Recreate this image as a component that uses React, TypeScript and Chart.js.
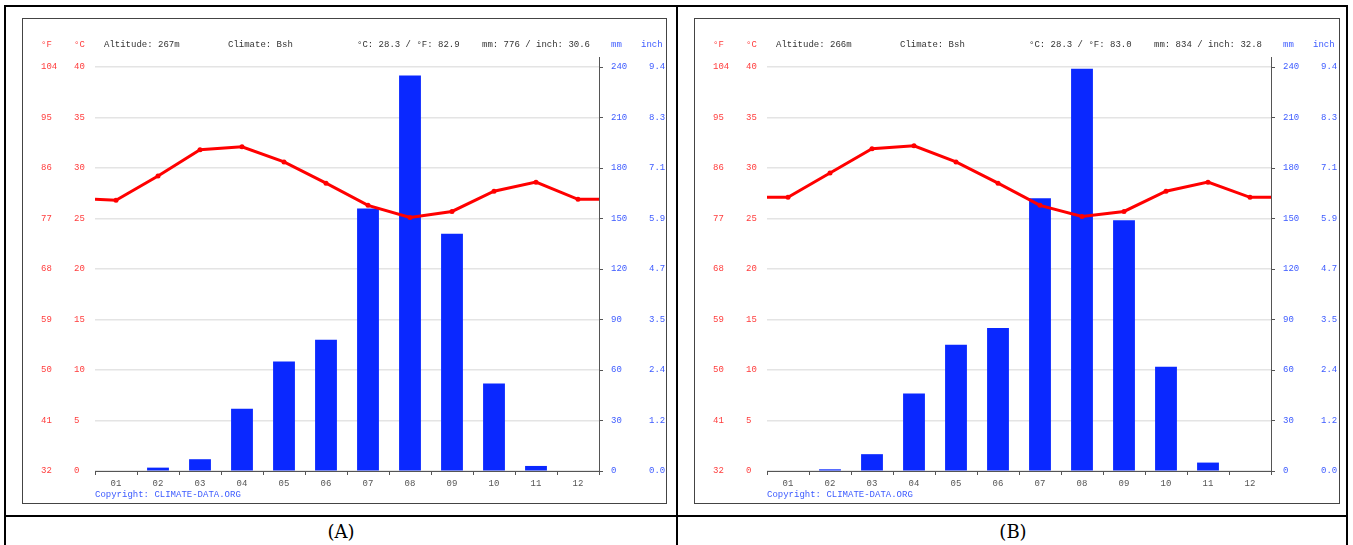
import React, { useEffect, useRef } from 'react';
import { Chart, registerables } from 'chart.js';

Chart.register(...registerables);

// ---------- data ----------
const months = ['01', '02', '03', '04', '05', '06', '07', '08', '09', '10', '11', '12'];

const precipA = [0, 2, 7, 37, 65, 78, 156, 235, 141, 52, 3, 0];
const tempA = [26.8, 29.2, 31.8, 32.1, 30.6, 28.5, 26.3, 25.1, 25.7, 27.7, 28.6, 26.9];
const tempAEdges = [26.9, 26.9];
const infoA = ['Altitude: 267m', 'Climate: Bsh', '°C: 28.3 / °F: 82.9', 'mm: 776 / inch: 30.6'];

const precipB = [0, 1, 10, 46, 75, 85, 162, 239, 149, 62, 5, 0];
const tempB = [27.1, 29.5, 31.9, 32.2, 30.6, 28.5, 26.3, 25.2, 25.7, 27.7, 28.6, 27.1];
const tempBEdges = [27.1, 27.1];
const infoB = ['Altitude: 266m', 'Climate: Bsh', '°C: 28.3 / °F: 83.0', 'mm: 834 / inch: 32.8'];

const fahrenheitTicks = ['32', '41', '50', '59', '68', '77', '86', '95', '104'];
const inchTicks = ['0.0', '1.2', '2.4', '3.5', '4.7', '5.9', '7.1', '8.3', '9.4'];
const captions = ['(A)', '(B)'];
const copyrightText = 'Copyright: CLIMATE-DATA.ORG';

// ---------- styles ----------
const FONT = "'Liberation Mono', 'DejaVu Sans Mono', monospace";
const RED = '#ff3c3c';
const BLUE = '#3d5bff';
const AXIS = '#555555';
const GRID = '#e4e4e4';
const BAR = '#0a28ff';
const LINE = '#ff0000';

type PanelProps = {
  left: number;
  width: number;
  precip: number[];
  temp: number[];
  edges: number[];
  info: string[];
};

function ClimateChart({ left, width, precip, temp, edges, info }: PanelProps) {
  const ref = useRef<HTMLCanvasElement>(null);
  const cw = width - 2;
  const ch = 484;

  useEffect(() => {
    if (!ref.current) return;
    const font = { family: FONT, size: 9 };
    const lineData = [
      { x: 0, y: edges[0] },
      ...temp.map((v, i) => ({ x: i + 0.5, y: v })),
      { x: 12, y: edges[1] },
    ];

    const headerPlugin = {
      id: 'header',
      afterDraw(chart: any) {
        const { ctx, chartArea, scales } = chart;
        ctx.save();
        ctx.font = `9px ${FONT}`;
        ctx.textBaseline = 'middle';
        ctx.textAlign = 'left';
        const y = chartArea.top - 22;
        ctx.fillStyle = RED;
        ctx.fillText('°F', scales.yF.left, y);
        ctx.fillText('°C', scales.y.left, y);
        ctx.fillStyle = BLUE;
        ctx.fillText('mm', scales.mm.left + 12, y);
        ctx.fillText('inch', scales.inch.left + 12, y);
        ctx.fillStyle = '#333333';
        ctx.fillText(info[0], chartArea.left + 9, y);
        ctx.fillText(info[1], chartArea.left + 133, y);
        ctx.fillText(info[2], chartArea.left + 262, y);
        ctx.textAlign = 'right';
        ctx.fillText(info[3], chartArea.right - 9, y);
        // right axis line extends a little above the plot
        ctx.strokeStyle = AXIS;
        ctx.lineWidth = 1;
        ctx.beginPath();
        const ax = Math.round(scales.mm.left) + 0.5;
        ctx.moveTo(ax, chartArea.top - 10);
        ctx.lineTo(ax, chartArea.top);
        ctx.stroke();
        ctx.restore();
      },
    };

    const chart = new Chart(ref.current, {
      type: 'bar',
      data: {
        labels: months,
        datasets: [
          {
            type: 'line',
            data: lineData as any,
            xAxisID: 'x2',
            yAxisID: 'y',
            borderColor: LINE,
            backgroundColor: LINE,
            borderWidth: 3,
            pointRadius: (c: any) => (c.dataIndex === 0 || c.dataIndex === lineData.length - 1 ? 0 : 2.5),
            pointBackgroundColor: LINE,
            pointBorderWidth: 0,
            tension: 0,
            order: 0,
          } as any,
          {
            type: 'bar',
            data: precip,
            xAxisID: 'x',
            yAxisID: 'mm',
            backgroundColor: BAR,
            borderWidth: 0,
            grouped: false,
            barPercentage: 0.52,
            categoryPercentage: 1,
            order: 1,
          } as any,
        ],
      },
      options: {
        animation: false,
        responsive: false,
        maintainAspectRatio: false,
        layout: { padding: { left: 18, top: 48, right: 0, bottom: 0 } },
        plugins: { legend: { display: false }, tooltip: { enabled: false } },
        scales: {
          x: {
            type: 'category',
            offset: true,
            grid: { display: true, drawOnChartArea: false, drawTicks: true, tickLength: 4, color: AXIS, offset: true },
            border: { display: true, color: AXIS, width: 1 },
            ticks: { color: '#555555', font, padding: 3, maxRotation: 0, autoSkip: false },
            title: {
              display: true,
              text: copyrightText,
              align: 'start',
              color: BLUE,
              font,
              padding: { top: 0, bottom: 3 },
            },
            afterFit: (s: any) => {
              s.height = 32;
            },
          },
          x2: { type: 'linear', display: false, offset: false, min: 0, max: 12, grid: { offset: false } },
          y: {
            position: 'left',
            weight: 1,
            min: 0,
            max: 40,
            ticks: { stepSize: 5, color: RED, font, padding: 0, crossAlign: 'far' },
            grid: { color: GRID, lineWidth: 1.5, drawTicks: false },
            border: { display: false },
            afterFit: (s: any) => {
              s.width = 21;
            },
          },
          yF: {
            position: 'left',
            weight: 2,
            min: 0,
            max: 40,
            ticks: {
              stepSize: 5,
              color: RED,
              font,
              padding: 0,
              crossAlign: 'far',
              callback: (_v: any, i: number) => fahrenheitTicks[i],
            },
            grid: { display: false },
            border: { display: false },
            afterFit: (s: any) => {
              s.width = 33;
            },
          },
          mm: {
            position: 'right',
            weight: 1,
            min: 0,
            max: 240,
            ticks: { stepSize: 30, color: BLUE, font, padding: 8, crossAlign: 'near' },
            grid: { drawOnChartArea: false, drawTicks: true, tickLength: 4, color: AXIS },
            border: { display: true, color: AXIS, width: 1 },
            afterFit: (s: any) => {
              s.width = 30;
            },
          },
          inch: {
            position: 'right',
            weight: 2,
            min: 0,
            max: 240,
            ticks: {
              stepSize: 30,
              color: BLUE,
              font,
              padding: 12,
              crossAlign: 'near',
              callback: (_v: any, i: number) => inchTicks[i],
            },
            grid: { display: false },
            border: { display: false },
            afterFit: (s: any) => {
              s.width = cw - 576 - 30;
            },
          },
        } as any,
      },
      plugins: [headerPlugin],
    });
    return () => chart.destroy();
  }, []);

  return (
    <div
      style={{
        position: 'absolute',
        left,
        top: 18,
        width,
        height: 486,
        border: '1px solid #444',
        boxSizing: 'border-box',
        background: '#fff',
      }}
    >
      <canvas ref={ref} width={cw} height={ch} style={{ display: 'block', width: cw, height: ch }} />
    </div>
  );
}

const captionStyle: React.CSSProperties = {
  position: 'absolute',
  top: 518,
  width: 670,
  height: 27,
  lineHeight: '27px',
  textAlign: 'center',
  fontFamily: "'DejaVu Serif', serif",
  fontSize: 18,
  color: '#000',
};

export default function App() {
  return (
    <div
      style={{
        position: 'absolute',
        left: 0,
        top: 0,
        width: 1353,
        height: 545,
        background: '#fff',
        overflow: 'hidden',
      }}
    >
      {/* table frame */}
      <div
        style={{
          position: 'absolute',
          left: 4,
          top: 5,
          width: 1344,
          height: 600,
          border: '2px solid #000',
          boxSizing: 'border-box',
        }}
      />
      <div style={{ position: 'absolute', left: 676, top: 5, width: 2, height: 600, background: '#000' }} />
      <div style={{ position: 'absolute', left: 4, top: 515, width: 1344, height: 2, background: '#000' }} />

      <ClimateChart left={22} width={645} precip={precipA} temp={tempA} edges={tempAEdges} info={infoA} />
      <ClimateChart left={694} width={646} precip={precipB} temp={tempB} edges={tempBEdges} info={infoB} />

      <div style={{ ...captionStyle, left: 6 }}>{captions[0]}</div>
      <div style={{ ...captionStyle, left: 678 }}>{captions[1]}</div>
    </div>
  );
}
